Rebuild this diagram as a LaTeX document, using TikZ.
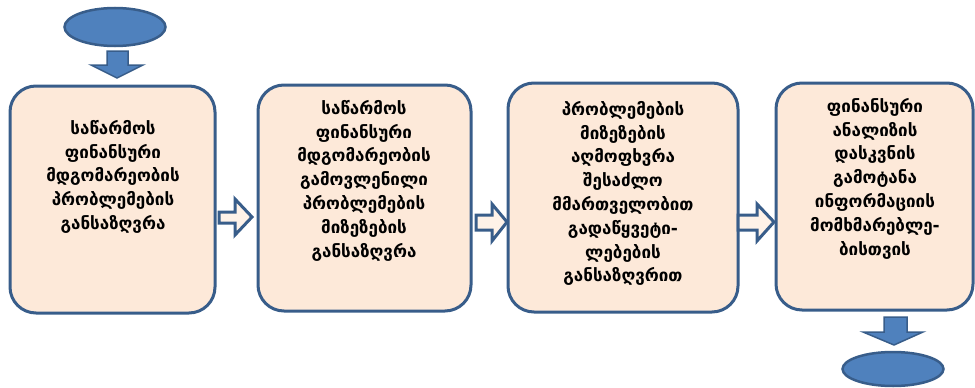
\documentclass[tikz,border=0pt]{standalone}
\usepackage{fontspec}
\newfontfamily\geo{DejaVu Sans}
\usetikzlibrary{shapes.geometric}
\definecolor{boxfill}{HTML}{FDE9D9}
\definecolor{edgeblue}{HTML}{385D8A}
\definecolor{fillblue}{HTML}{4F81BD}
\begin{document}
\begin{tikzpicture}[x=1pt,y=-1pt,
  stepbox/.style={draw=edgeblue, line width=3pt, fill=boxfill, rounded corners=26pt, inner sep=0pt},
  boxtext/.style={anchor=north, align=center, inner sep=0pt, font=\geo\bfseries\fontsize{17}{23.8}\selectfont, text=black},
  terminal/.style={ellipse, draw=edgeblue, line width=2.5pt, fill=fillblue, inner sep=0pt},
  rarrow/.style={draw=edgeblue, line width=3pt, fill=boxfill!60!white, line join=miter},
  darrow/.style={draw=edgeblue, line width=1.5pt, fill=fillblue, line join=miter}]
\useasboundingbox (0,0) rectangle (975,388);
% terminals
\node[terminal, minimum width=101pt, minimum height=38pt] (start) at (115,27) {};
\node[terminal, minimum width=101pt, minimum height=34pt] (stop) at (893,369) {};
% boxes
\node[stepbox, minimum width=205pt, minimum height=227pt] (b1) at (112.5,199.5) {};
\node[stepbox, minimum width=213pt, minimum height=226pt] (b2) at (364.5,198) {};
\node[stepbox, minimum width=230pt, minimum height=229pt] (b3) at (623,197.5) {};
\node[stepbox, minimum width=197pt, minimum height=227pt] (b4) at (874.5,196.5) {};
% texts
\node[boxtext] (t1) at (113,120) {საწარმოს\\ფინანსური\\მდგომარეობის\\პრობლემების\\განსაზღვრა};
\node[boxtext] (t2) at (364,100) {საწარმოს\\ფინანსური\\მდგომარეობის\\გამოვლენილი\\პრობლემების\\მიზეზების\\განსაზღვრა};
\node[boxtext] (t3) at (623,101) {პრობლემების\\მიზეზების\\აღმოფხვრა\\შესაძლო\\მმართველობით\\გადაწყვეტი-\\ლებების\\განსაზღვრით};
\node[boxtext] (t4) at (875,98) {ფინანსური\\ანალიზის\\დასკვნის\\გამოტანა\\ინფორმაციის\\მომხმარებლე-\\ბისთვის};
% down arrows
\draw[darrow] (107,51) -- (128,51) -- (128,65) -- (143,65) -- (117,78) -- (91,65) -- (107,65) -- cycle;
\draw[darrow] (884,317) -- (907,317) -- (907,332) -- (923,332) -- (894,345) -- (863,332) -- (884,332) -- cycle;
% right arrows
\draw[rarrow] (219,212) -- (235,212) -- (235,199) -- (252,217) -- (235,235) -- (235,223) -- (219,223) -- cycle;
\draw[rarrow] (476,215) -- (492,215) -- (492,204) -- (507,222) -- (492,241) -- (492,230) -- (476,230) -- cycle;
\draw[rarrow] (738,215) -- (757,215) -- (757,204) -- (774,222) -- (757,241) -- (757,230) -- (738,230) -- cycle;
\end{tikzpicture}
\end{document}
